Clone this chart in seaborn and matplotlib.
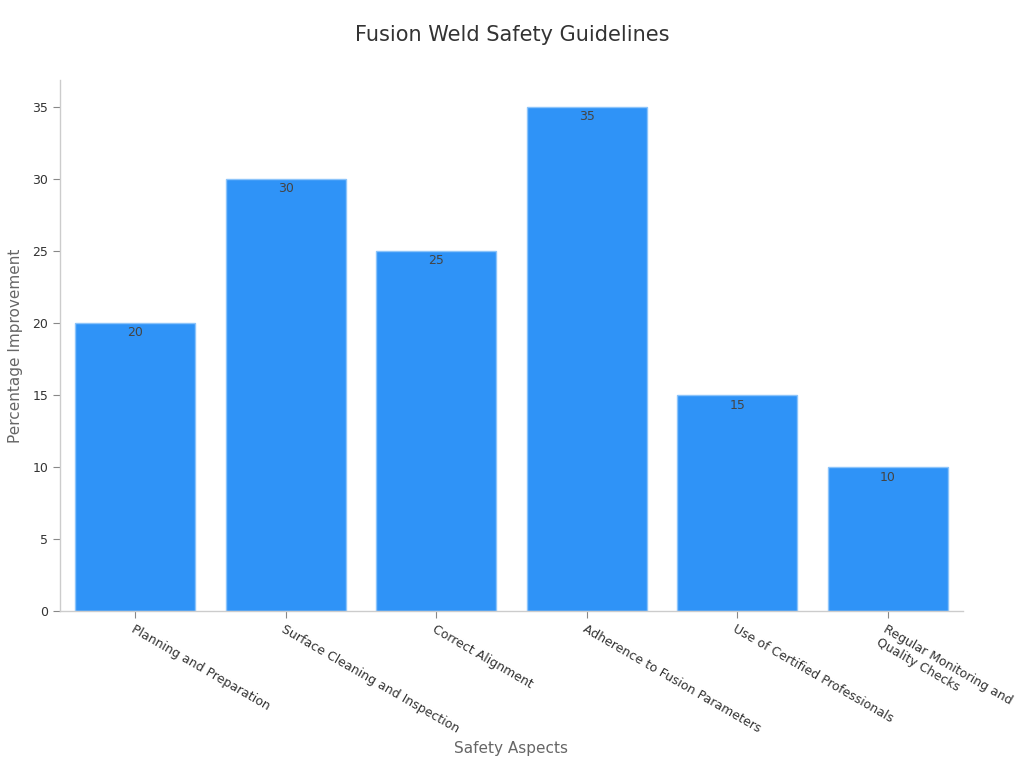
import matplotlib
matplotlib.use('Agg')
import matplotlib.pyplot as plt
import seaborn as sns
import pandas as pd

# --- data ---
aspects = [
    'Planning and Preparation',
    'Surface Cleaning and Inspection',
    'Correct Alignment',
    'Adherence to Fusion Parameters',
    'Use of Certified Professionals',
    'Regular Monitoring and\nQuality Checks',
]
improvement = [20, 30, 25, 35, 15, 10]

df = pd.DataFrame({'Aspect': aspects, 'Improvement': improvement})

sns.set_style('white')
plt.rcParams['font.family'] = ['DejaVu Sans']

fig = plt.figure(figsize=(10.24, 7.68), dpi=100)
ax = fig.add_axes([0.0586, 0.2044, 0.8818, 0.6914])

sns.barplot(data=df, x='Aspect', y='Improvement', color='#2F93F7',
            saturation=1, width=0.8, edgecolor='#8CC4FA', linewidth=1, ax=ax)

# value labels just inside the bar tops
for c in ax.containers:
    ax.bar_label(c, labels=[f'{v:g}' for v in c.datavalues], padding=-12,
                 color='#444444', fontsize=9)

ax.set_xlim(-0.5, len(aspects) - 0.5)
ax.set_ylim(0, 36.85)
ax.set_yticks(range(0, 36, 5))

for s in ['top', 'right']:
    ax.spines[s].set_visible(False)
for s in ['left', 'bottom']:
    ax.spines[s].set_color('#cccccc')
    ax.spines[s].set_linewidth(1)

ax.tick_params(axis='both', which='both', length=5, color='#888888',
               labelcolor='#333333', labelsize=9, left=True, bottom=True)
plt.setp(ax.get_xticklabels(), rotation=-30, ha='left', rotation_mode='anchor')

ax.set_xlabel('Safety Aspects', fontsize=11, color='#666666', labelpad=4)
ax.set_ylabel('Percentage Improvement', fontsize=11, color='#666666', labelpad=7)
fig.suptitle('Fusion Weld Safety Guidelines', fontsize=15, color='#333333', y=0.968)

fig.savefig('out.png', dpi=100)
plt.close(fig)
